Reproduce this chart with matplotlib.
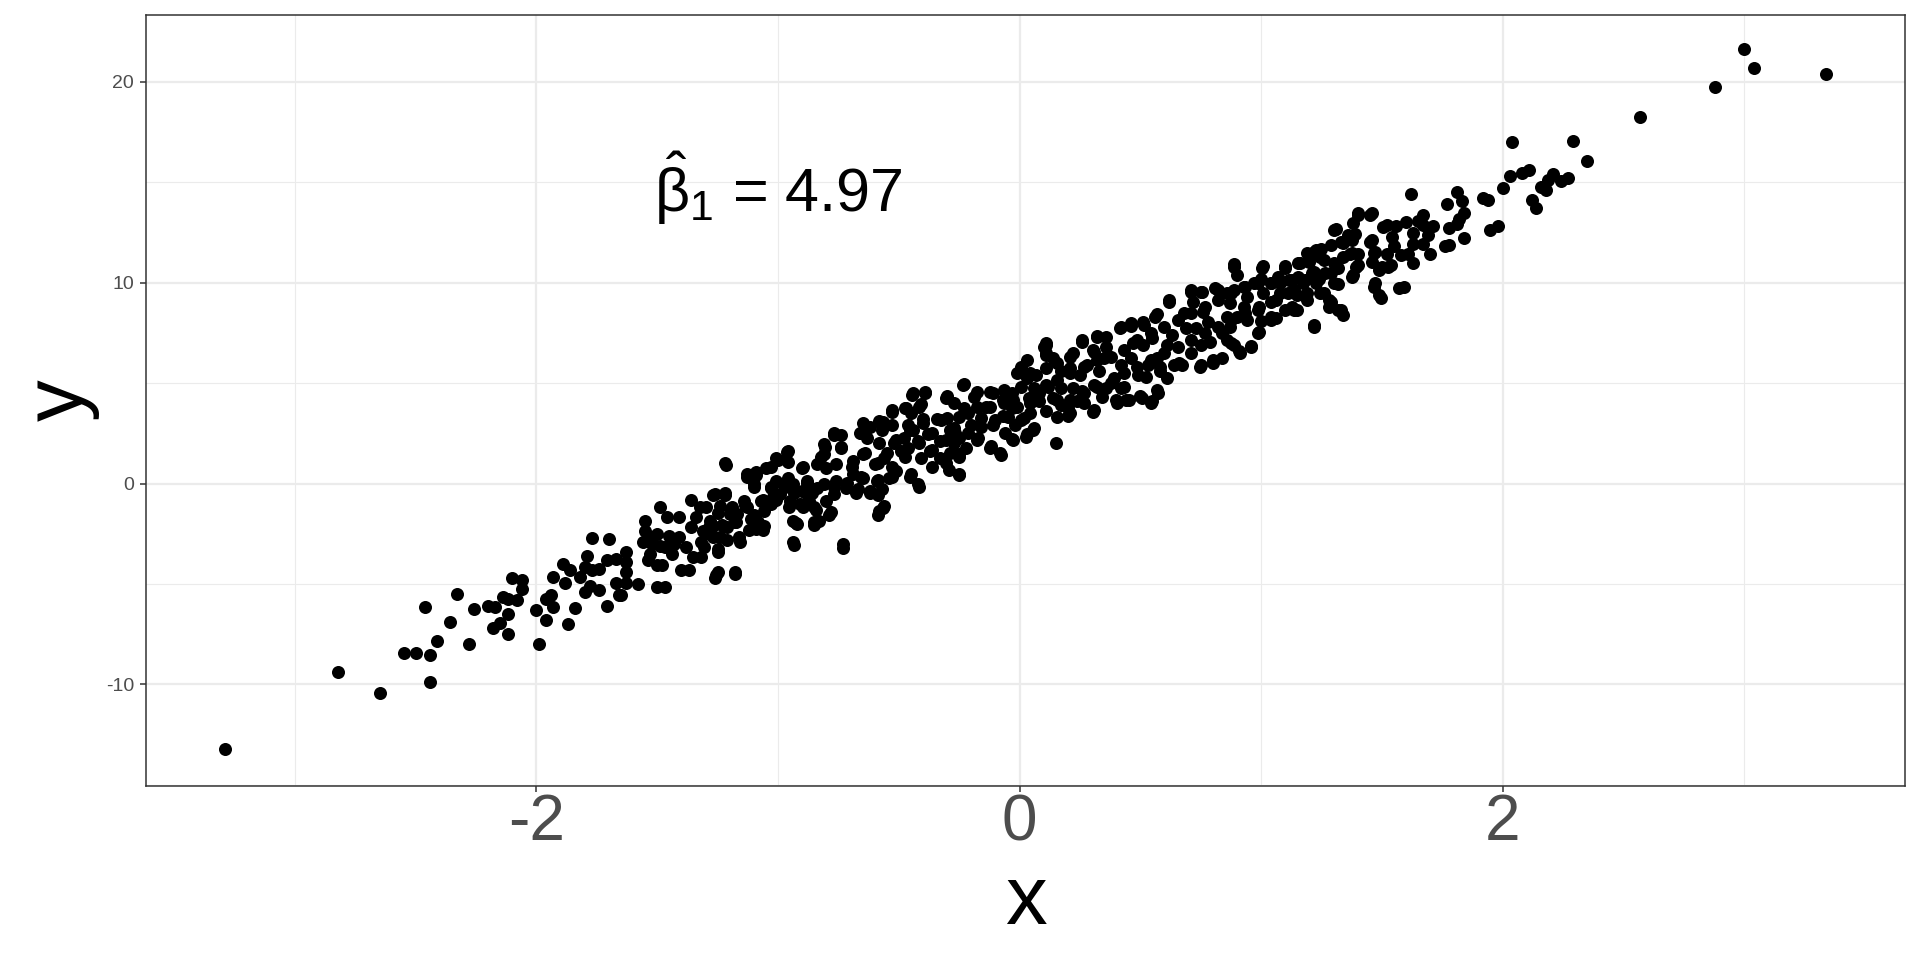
import numpy as np
import matplotlib
matplotlib.use("Agg")
import matplotlib.pyplot as plt
from matplotlib.ticker import MultipleLocator

# points, grouped by region along the band (x, y)
tail_low = [(-3.29, -13.22), (-2.82, -9.40), (-2.65, -10.41), (-2.55, -8.43), (-2.50, -8.43)]

band_a = [(-2.44, -8.56), (-2.44, -9.87), (-2.46, -6.15), (-2.41, -7.83), (-2.36, -6.89), (-2.33, -5.49),
          (-2.28, -8.00), (-2.26, -6.26), (-2.20, -6.11), (-2.18, -7.19), (-2.15, -6.94), (-2.12, -7.47),
          (-2.17, -6.15), (-2.14, -5.65), (-2.12, -5.74), (-2.08, -5.78), (-2.12, -6.51), (-2.10, -4.69),
          (-2.06, -4.79), (-2.06, -5.24), (-2.00, -6.31), (-1.99, -7.97), (-1.96, -6.78), (-1.96, -5.74),
          (-1.94, -5.57), (-1.93, -6.15), (-1.93, -4.66), (-1.89, -4.03), (-1.88, -4.96), (-1.87, -6.98),
          (-1.84, -6.18), (-1.86, -4.33), (-1.82, -4.66), (-1.80, -4.16), (-1.79, -3.59), (-1.77, -2.71),
          (-1.70, -2.76), (-1.80, -5.40), (-1.78, -5.12), (-1.74, -5.29), (-1.77, -4.30), (-1.74, -4.25),
          (-1.71, -6.11), (-1.71, -3.80), (-1.67, -3.75), (-1.67, -4.96), (-1.66, -5.57)]

band_b = [(-1.65, -5.57), (-1.63, -4.96), (-1.58, -4.99), (-1.63, -4.41), (-1.63, -3.42), (-1.63, -3.92),
          (-1.50, -5.16), (-1.47, -5.16), (-1.40, -4.33), (-1.37, -4.33), (-1.26, -4.69), (-1.25, -4.41),
          (-1.18, -4.40), (-1.54, -3.83), (-1.53, -3.50), (-1.50, -4.08), (-1.48, -4.08), (-1.56, -2.93),
          (-1.55, -2.35), (-1.55, -1.88), (-1.52, -3.01), (-1.50, -2.51), (-1.49, -3.09), (-1.45, -2.59),
          (-1.44, -3.50), (-1.41, -2.68), (-1.46, -1.69), (-1.49, -1.19), (-1.41, -1.65), (-1.38, -3.17),
          (-1.35, -3.67), (-1.32, -3.67), (-1.36, -2.18), (-1.34, -1.69), (-1.36, -0.83), (-1.30, -1.19),
          (-1.32, -2.93), (-1.28, -2.51), (-1.25, -3.26), (-1.27, -2.12), (-1.24, -2.68), (-1.26, -0.50),
          (-1.22, -0.45), (-1.24, -1.11), (-1.21, -2.18), (-1.19, -1.19), (-1.18, -1.93), (-1.16, -2.68),
          (-1.22, 1.04), (-1.13, 0.46), (-1.09, 0.55), (-1.10, -0.03), (-1.13, -1.19), (-1.11, -1.77),
          (-1.09, -2.27), (-1.06, -2.10), (-1.07, -0.86), (-1.05, 0.79), (-1.01, 1.29), (-0.96, 1.62),
          (-0.96, 1.09), (-1.03, -0.20), (-1.03, -1.03), (-0.99, -0.53), (-0.98, -0.03), (-0.95, -0.86),
          (-0.94, -1.85), (-0.94, -2.93), (-0.92, -2.02), (-0.90, -0.36), (-0.90, 0.79), (-0.88, 0.13),
          (-0.87, -0.86), (-0.85, -1.93), (-0.84, 0.96), (-0.85, -1.19), (-1.52, -2.68), (-1.47, -3.17),
          (-1.43, -3.01), (-1.31, -2.35), (-1.28, -1.85), (-1.20, -1.52), (-1.17, -1.52), (-1.14, -0.86),
          (-1.06, -1.36), (-1.02, -0.69), (-1.01, 0.13), (-0.96, 0.30), (-0.94, -0.03), (-0.91, -1.03),
          (-0.88, -0.53), (-0.84, -0.20)]

band_c = [(-0.73, -3.01), (-0.58, -1.36), (-0.56, -1.11), (-0.78, -1.44), (-0.80, -0.86), (-0.83, -1.85),
          (-0.42, -0.03), (-0.45, 0.50), (-0.25, 0.50), (-0.29, 0.66), (-0.25, 1.45), (-0.08, 1.54),
          (-0.12, 1.87), (-0.03, 2.20), (-0.77, 2.53), (-0.74, 2.41), (-0.81, 1.95), (-0.74, 1.82),
          (-0.81, 1.45), (-0.80, 0.79), (-0.81, -0.03), (-0.76, 0.96), (-0.76, 0.13), (-0.77, -0.53),
          (-0.72, -0.20), (-0.69, 0.46), (-0.67, -0.28), (-0.62, -0.36), (-0.57, -0.28), (-0.65, 0.30),
          (-0.59, 0.13), (-0.54, 0.30), (-0.51, 0.63), (-0.69, 1.12), (-0.65, 1.45), (-0.60, 0.96),
          (-0.56, 1.29), (-0.66, 2.53), (-0.65, 3.02), (-0.63, 2.28), (-0.58, 3.11), (-0.57, 2.69),
          (-0.53, 2.94), (-0.58, 2.03), (-0.52, 2.03), (-0.49, 1.62), (-0.46, 1.78), (-0.41, 1.29),
          (-0.37, 1.62), (-0.33, 1.29), (-0.48, 2.28), (-0.42, 2.12), (-0.38, 2.45), (-0.33, 2.12),
          (-0.27, 2.03), (-0.46, 2.94), (-0.44, 2.69), (-0.40, 3.19), (-0.34, 3.19), (-0.30, 3.27),
          (-0.27, 2.78), (-0.25, 2.28), (-0.53, 3.68), (-0.47, 3.77), (-0.45, 3.52), (-0.44, 4.51),
          (-0.39, 4.56), (-0.41, 3.97), (-0.30, 4.35), (-0.27, 4.02), (-0.23, 4.96), (-0.23, 3.77),
          (-0.20, 2.94), (-0.19, 4.33), (-0.16, 3.27), (-0.17, 2.28), (-0.14, 3.83), (-0.11, 4.49),
          (-0.11, 2.94), (-0.07, 4.16), (-0.07, 3.34), (-0.06, 2.51), (-0.03, 4.49), (-0.01, 5.49),
          (-0.03, 3.77), (-0.02, 2.94), (-0.22, 1.78)]

band_d = [(0.15, 2.00), (0.06, 2.78), (0.03, 2.45), (0.02, 3.27), (0.31, 3.68), (0.20, 3.35),
          (0.17, 3.93), (0.40, 4.18), (0.44, 4.18), (0.50, 4.35), (0.55, 4.13), (0.57, 4.68),
          (0.75, 5.92), (0.66, 6.00), (0.80, 6.16), (0.03, 6.16), (0.11, 6.99), (0.11, 6.49),
          (0.14, 6.25), (0.22, 6.49), (0.26, 7.15), (0.32, 7.37), (0.36, 7.32), (0.42, 7.82),
          (0.46, 7.98), (0.51, 8.03), (0.57, 8.43), (0.62, 9.14), (0.71, 9.63), (0.75, 9.55),
          (0.81, 9.72), (0.72, 9.06), (0.68, 8.48), (0.76, 8.56), (0.78, 8.06), (0.73, 7.73),
          (0.69, 7.73), (0.79, 7.07), (0.75, 6.91), (0.71, 6.49), (0.61, 6.91), (0.57, 6.25),
          (0.63, 7.40), (0.55, 7.24), (0.51, 6.91), (0.47, 6.99), (0.46, 6.25), (0.53, 5.92),
          (0.49, 5.42), (0.42, 5.92), (0.39, 5.26), (0.35, 6.25), (0.31, 6.57), (0.28, 5.92),
          (0.33, 5.59), (0.36, 4.76), (0.42, 4.76), (0.31, 4.92), (0.25, 5.42), (0.21, 5.75),
          (0.17, 5.59), (0.11, 5.75), (0.07, 5.42), (0.03, 5.26), (0.06, 4.76), (0.11, 4.92),
          (0.17, 4.76), (0.22, 4.76), (0.26, 4.60), (0.14, 4.26), (0.08, 4.10), (0.04, 4.26),
          (0.24, 4.10), (0.20, 3.77), (0.11, 3.60), (0.58, 5.59), (0.64, 5.92), (0.61, 5.26)]

band_e = [(1.22, 7.88), (0.96, 6.86), (0.89, 6.91), (0.91, 6.58), (0.99, 7.57), (0.84, 6.25),
          (0.89, 10.92), (0.90, 10.38), (1.01, 10.82), (1.10, 10.82), (1.16, 10.96), (1.20, 11.04),
          (1.22, 11.53), (1.26, 11.12), (1.25, 11.70), (1.29, 11.86), (1.31, 12.69), (1.33, 12.03),
          (1.36, 12.36), (1.39, 12.44), (1.38, 12.97), (1.40, 13.47), (1.46, 13.47), (1.46, 12.15),
          (1.37, 11.45), (1.40, 11.45), (1.38, 10.38), (1.40, 10.87), (1.47, 11.53), (1.46, 11.04),
          (1.47, 9.97), (1.49, 9.39), (1.50, 10.79), (1.54, 10.87), (1.52, 11.45), (1.55, 11.82),
          (1.58, 11.37), (1.61, 11.45), (1.63, 10.96), (1.59, 9.80), (1.63, 11.95), (1.63, 12.48),
          (1.52, 12.86), (1.56, 12.81), (1.60, 13.02), (1.62, 14.43), (1.65, 13.09), (1.29, 9.06),
          (1.33, 8.64), (1.32, 9.93), (1.26, 9.47), (1.24, 10.21), (1.19, 9.47), (1.15, 9.39),
          (1.13, 8.81), (1.15, 8.64), (1.18, 10.13), (1.13, 10.13), (1.08, 9.97), (1.07, 10.30),
          (1.04, 9.97), (1.00, 10.21), (0.97, 9.97), (1.01, 9.47), (1.04, 9.06), (0.99, 8.81),
          (1.04, 8.31), (1.06, 8.23), (1.00, 8.07), (0.94, 9.31), (0.93, 9.80), (0.89, 9.63),
          (0.86, 9.47), (0.87, 8.97), (0.93, 8.81), (0.90, 8.31), (0.86, 8.31), (0.94, 8.15),
          (0.87, 7.82), (0.84, 7.49), (0.86, 7.15), (1.11, 9.47), (1.22, 10.54), (1.29, 10.46),
          (1.32, 10.71)]

band_f = [(2.04, 17.02), (2.29, 17.04), (2.35, 16.05), (2.03, 15.33), (2.08, 15.47), (2.11, 15.62),
          (2.00, 14.74), (2.12, 14.14), (2.14, 13.72), (2.16, 14.75), (2.18, 14.64), (2.19, 15.14),
          (2.21, 15.42), (2.24, 15.09), (2.27, 15.21), (1.92, 14.21), (1.94, 14.10), (1.95, 12.61),
          (1.98, 12.82), (1.81, 14.51), (1.83, 14.05), (1.77, 13.90), (1.84, 13.48), (1.82, 13.19),
          (1.81, 12.94), (1.78, 12.72), (1.84, 12.25), (1.71, 12.82), (1.76, 11.83), (1.78, 11.90),
          (1.70, 11.45), (1.67, 11.95), (1.69, 12.36), (1.67, 12.86), (1.67, 13.35)]

tail_high = [(2.57, 18.25), (2.88, 19.77), (3.00, 21.65), (3.04, 20.69), (3.34, 20.41)]

# extra points in the dense core, read from a closer look
core_left = [(-1.216, 0.92), (-1.129, 0.34), (-1.092, 0.43), (-1.027, 0.84), (-1.000, 1.17), (-0.963, 1.59),
             (-0.898, 0.84), (-0.824, 1.34), (-0.805, 1.84), (-0.768, 2.42), (-0.741, 1.75), (-1.027, -0.16),
             (-0.972, -0.16), (-0.935, -0.49), (-0.879, 0.01), (-0.861, -0.49), (-1.101, -0.16), (-1.064, -0.82),
             (-1.009, -0.82), (-0.953, -1.15), (-0.898, -1.15), (-0.842, -1.32), (-0.787, -1.57), (-1.323, -1.15),
             (-1.268, -0.57), (-1.221, -0.57), (-1.249, -1.48), (-1.194, -1.32), (-1.138, -1.07), (-1.101, -1.57),
             (-1.286, -2.15), (-1.231, -2.07), (-1.175, -1.90), (-1.120, -2.31), (-1.064, -2.31), (-1.157, -2.90),
             (-1.212, -2.81), (-1.268, -2.65), (-1.249, -3.39), (-1.305, -3.14), (-0.935, -3.06), (-0.852, -2.07),
             (-0.732, -3.23), (-1.258, -4.56), (-1.179, -4.52), (-1.083, -1.90), (-0.926, -1.98)]

core_mid = [(-0.695, 0.84), (-0.639, 1.50), (-0.584, 1.01), (-0.547, 1.50), (-0.658, 2.50), (-0.621, 2.83),
            (-0.565, 3.08), (-0.528, 3.58), (-0.473, 3.74), (-0.445, 4.41), (-0.390, 4.49), (-0.417, 3.83),
            (-0.306, 4.24), (-0.232, 4.91), (-0.177, 4.57), (-0.122, 4.57), (-0.066, 4.66), (-0.029, 4.16),
            (0.008, 4.82), (0.045, 5.49), (0.100, 6.82), (0.008, 5.82), (-0.658, 0.34), (-0.584, 0.18),
            (-0.528, 0.84), (-0.473, 1.34), (-0.510, 2.17), (-0.454, 2.67), (-0.399, 3.00), (-0.362, 2.50),
            (-0.325, 3.16), (-0.288, 2.67), (-0.251, 3.33), (-0.214, 3.50), (-0.177, 3.83), (-0.122, 3.83),
            (-0.066, 3.99), (-0.011, 3.83), (0.045, 3.99), (0.082, 4.49), (0.119, 4.82), (-0.417, 2.00),
            (-0.362, 1.67), (-0.306, 2.17), (-0.269, 2.50), (-0.214, 2.50), (-0.158, 2.83), (-0.103, 3.16),
            (-0.048, 3.33), (0.008, 3.16), (0.045, 3.50), (-0.528, 0.34), (-0.454, 0.34), (-0.417, -0.16),
            (-0.362, 0.84), (-0.306, 1.01), (-0.251, 0.43), (-0.288, 1.50), (-0.251, 1.34), (-0.177, 2.17),
            (-0.122, 1.75), (-0.075, 1.42), (-0.029, 2.17), (0.026, 2.33), (0.054, 2.67), (-0.584, -0.57),
            (-0.565, -1.24), (-0.584, -1.57), (-0.621, -0.49), (-0.676, -0.49), (-0.713, 0.01), (-0.768, -0.16)]

core_upper = [(0.110, 6.90), (0.110, 6.40), (0.156, 5.99), (0.211, 6.32), (0.257, 7.07), (0.322, 7.31),
              (0.304, 6.65), (0.359, 6.82), (0.415, 7.73), (0.461, 7.85), (0.516, 7.90), (0.562, 8.31),
              (0.618, 9.06), (0.710, 9.55), (0.757, 9.55), (0.821, 9.64), (0.886, 10.80), (1.006, 10.72),
              (0.156, 5.16), (0.211, 5.49), (0.267, 5.82), (0.322, 6.15), (0.378, 6.32), (0.433, 6.65),
              (0.488, 7.15), (0.544, 7.48), (0.599, 7.81), (0.655, 8.14), (0.710, 8.48), (0.766, 8.81),
              (0.821, 9.14), (0.877, 9.47), (0.932, 9.80), (0.988, 9.97), (0.156, 4.16), (0.211, 4.16),
              (0.267, 4.49), (0.322, 4.82), (0.378, 4.99), (0.433, 5.49), (0.488, 5.82), (0.544, 6.15),
              (0.599, 6.48), (0.655, 6.82), (0.710, 7.15), (0.766, 7.48), (0.821, 7.81), (0.877, 8.14),
              (0.932, 8.48), (0.988, 8.64), (0.156, 3.33), (0.211, 3.50), (0.304, 3.58), (0.267, 3.99),
              (0.341, 4.33), (0.405, 3.99), (0.452, 4.16), (0.507, 4.24), (0.544, 3.99), (0.572, 4.53),
              (0.433, 4.82), (0.525, 5.32), (0.581, 5.82), (0.673, 5.90), (0.747, 5.82), (0.803, 5.99),
              (0.877, 6.98), (0.914, 6.48), (0.960, 6.82), (0.988, 7.48), (1.043, 8.14), (1.061, 9.14),
              (1.098, 8.64), (1.043, 9.97), (1.098, 10.72), (1.154, 10.97), (1.135, 8.64), (1.219, 7.81)]

core_right = [(1.154, 10.30), (1.209, 10.47), (1.246, 11.30), (1.302, 12.63), (1.339, 11.96), (1.376, 12.13),
              (1.403, 13.37), (1.450, 13.37), (1.450, 12.04), (1.468, 11.46), (1.505, 12.79), (1.542, 12.29),
              (1.524, 10.80), (1.487, 10.63), (1.339, 11.30), (1.376, 11.46), (1.394, 10.80), (1.376, 10.30),
              (1.302, 9.97), (1.228, 9.97), (1.246, 9.47), (1.283, 9.14), (1.320, 8.64), (1.339, 8.39),
              (1.283, 8.81), (1.135, 9.64), (1.191, 9.14), (1.080, 9.47), (1.468, 9.80), (1.496, 9.22),
              (1.570, 9.72), (1.265, 10.47), (1.191, 11.46), (1.228, 11.63), (1.302, 10.97), (1.172, 9.97),
              (1.117, 10.14)]

x_ticks = [-2, 0, 2]
y_ticks = [-10, 0, 10, 20]
beta_label = r"$\hat{\mathrm{\beta}}_{1}$ = 4.97"

pts = np.array(tail_low + band_a + band_b + band_c + band_d + band_e + band_f + tail_high
               + core_left + core_mid + core_upper + core_right)

plt.rcParams["font.family"] = ["Liberation Sans", "DejaVu Sans"]
plt.rcParams["mathtext.fontset"] = "custom"
plt.rcParams["mathtext.rm"] = "Liberation Sans"
plt.rcParams["mathtext.it"] = "Liberation Sans:italic"
plt.rcParams["axes.unicode_minus"] = False

fig = plt.figure(figsize=(19.2, 9.6), dpi=100)
ax = fig.add_axes([0.0759, 0.1813, 0.9165, 0.8028])

ax.scatter(pts[:, 0], pts[:, 1], s=88, color="black", linewidths=0, zorder=3)

ax.set_xlim(-3.618, 3.668)
ax.set_ylim(-15.06, 23.32)
ax.set_xticks(x_ticks)
ax.set_yticks(y_ticks)
ax.xaxis.set_minor_locator(MultipleLocator(1))
ax.yaxis.set_minor_locator(MultipleLocator(5))

ax.grid(which="major", color="#EBEBEB", linewidth=1.6, zorder=0)
ax.grid(which="minor", color="#EBEBEB", linewidth=0.8, zorder=0)
ax.set_axisbelow(True)
for sp in ax.spines.values():
    sp.set_color("#333333")
    sp.set_linewidth(1.1)

ax.tick_params(which="major", length=4.3, width=1.1, color="#333333")
ax.tick_params(which="minor", length=0)
ax.tick_params(axis="x", labelsize=46, labelcolor="#4D4D4D", pad=1)
ax.tick_params(axis="y", labelsize=14, labelcolor="#4D4D4D", pad=4)

ax.set_xlabel("x", fontsize=60)
ax.set_ylabel("y", fontsize=60)
ax.xaxis.set_label_coords(0.5, -0.15)
ax.xaxis.label.set_va("center")
ax.yaxis.set_label_coords(-0.048, 0.5)
ax.yaxis.label.set_va("center")

ax.text(-1.0, 14.7, beta_label, fontsize=44, ha="center", va="center")

fig.savefig("out.png", dpi=100, facecolor="white")
